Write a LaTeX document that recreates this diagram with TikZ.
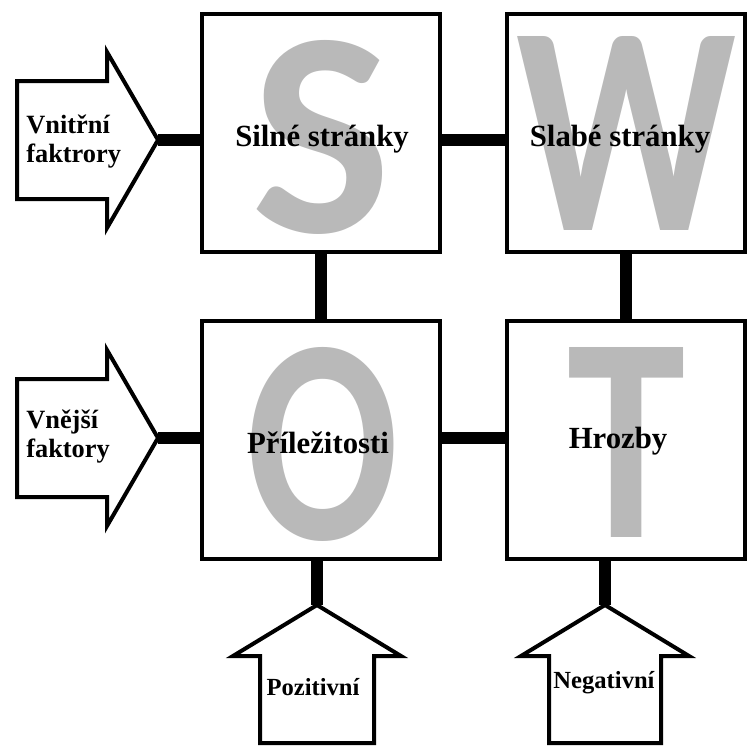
\documentclass[tikz,border=0pt]{standalone}
\usepackage{fontspec}
\usepackage{graphicx}
\setmainfont{Liberation Serif}
\newfontfamily\swotfont{Carlito}
\usetikzlibrary{calc}
\definecolor{swotgray}{RGB}{185,185,185}

\tikzset{
  quad/.style={draw, line width=0.8mm, minimum size=47.6mm, inner sep=0pt},
  bigletter/.style={text=swotgray, inner sep=0pt, font=\swotfont\bfseries},
  boxtext/.style={anchor=base, inner sep=0pt, font=\fontsize{17.5}{20}\selectfont\bfseries},
  sidetext/.style={anchor=west, align=left, inner sep=0pt, font=\fontsize{15}{16.5}\selectfont\bfseries},
  bottomtext/.style={anchor=base, inner sep=0pt, font=\fontsize{14}{16}\selectfont\bfseries},
  fatarrow/.style={draw, line width=0.8mm, line join=miter},
  link/.style={line width=2.4mm},
}

\begin{document}
\begin{tikzpicture}[x=0.2mm, y=-0.2mm]
  \useasboundingbox (0,0) rectangle (749,747); % pixel grid of the reference

  % --- arrow tips ---
  \coordinate (vtip) at (158,140);
  \coordinate (otip) at (158,438);
  \coordinate (ptip) at (317,605);
  \coordinate (ntip) at (605,605);

  % --- quadrants ---
  \node[quad] (S) at (321,133) {};
  \node[quad] (W) at (626,133) {};
  \node[quad] (O) at (321,440) {};
  \node[quad] (T) at (626,440) {};

  % --- big grey letters ---
  \node[bigletter] (bigS) at (321.5,137) {\resizebox{28mm}{38.4mm}{S}};
  \node[bigletter] (bigW) at (626.5,133) {\resizebox{44mm}{38.8mm}{W}};
  \node[bigletter] (bigO) at (323,444) {\resizebox{30.5mm}{38.4mm}{O}};
  \node[bigletter] (bigT) at (626.5,442) {\resizebox{23.6mm}{38mm}{T}};

  % --- connectors ---
  \draw[link] (vtip) -- (vtip -| S.west);
  \draw[link] (vtip -| S.east) -- (vtip -| W.west);
  \draw[link] (otip) -- (otip -| O.west);
  \draw[link] (otip -| O.east) -- (otip -| T.west);
  \draw[link] (S.south) -- (O.north);
  \draw[link] (W.south) -- (T.north);
  \draw[link] (ptip |- O.south) -- (ptip);
  \draw[link] (ntip |- T.south) -- (ntip);

  % --- block arrows ---
  \draw[fatarrow] (17,81) -- (107,81) -- (107,52) -- (vtip) -- (107,228) -- (107,199) -- (17,199) -- cycle;
  \draw[fatarrow] (17,379) -- (107,379) -- (107,350) -- (otip) -- (107,526) -- (107,497) -- (17,497) -- cycle;
  \draw[fatarrow] (260,743) -- (260,656) -- (233,656) -- (ptip) -- (401,656) -- (374,656) -- (374,743) -- cycle;
  \draw[fatarrow] (549,743) -- (549,656) -- (521,656) -- (ntip) -- (689,656) -- (661,656) -- (661,743) -- cycle;

  % --- texts ---
  \node[boxtext] (Stxt) at (322,146) {Silné stránky};
  \node[boxtext] (Wtxt) at (620,146) {Slabé stránky};
  \node[boxtext] (Otxt) at (318,453) {Příležitosti};
  \node[boxtext] (Ttxt) at (618,448) {Hrozby};

  \node[sidetext] (vnitrni) at (26,142) {Vnitřní\\faktrory};
  \node[sidetext] (vnejsi) at (26,437) {Vnější\\faktory};
  \node[bottomtext] (pozit) at (313,695) {Pozitivní};
  \node[bottomtext] (negat) at (604,688) {Negativní};
\end{tikzpicture}
\end{document}
